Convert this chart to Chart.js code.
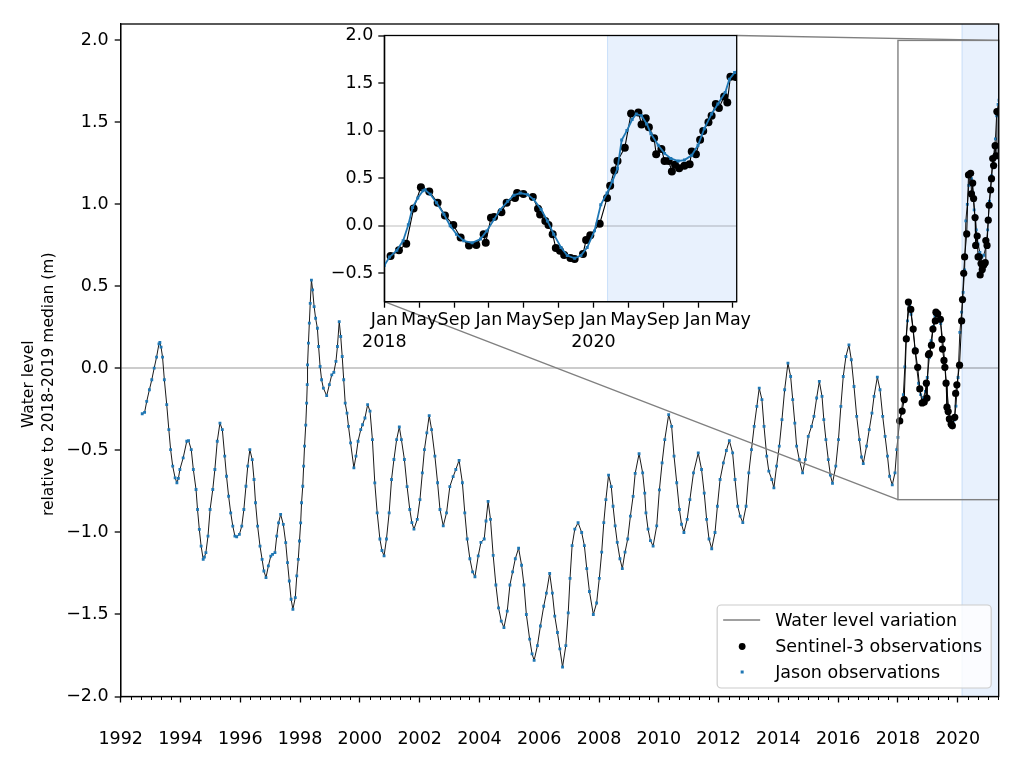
<!DOCTYPE html>
<html>
<head>
<meta charset="utf-8">
<title>Water level</title>
<script src="https://cdn.jsdelivr.net/npm/chart.js@4.4.1/dist/chart.umd.min.js"></script>
<style>
  html, body { margin: 0; padding: 0; background: #fff; }
  #wrap { position: relative; width: 1024px; height: 768px; }
  #main { position: absolute; left: 0; top: 0; }
  #inset { position: absolute; left: 320px; top: 20px; }
</style>
</head>
<body>
<div id="wrap">
  <canvas id="main" width="1024" height="768"></canvas>
  <canvas id="inset" width="440" height="340"></canvas>
</div>
<script>
"use strict";

// Jason altimetry series (decimal year, metres)
const jasonYears = [
  1992.72, 1992.80, 1992.87, 1992.96, 1993.04, 1993.12, 1993.20, 1993.28, 1993.31, 1993.35,
  1993.40, 1993.46, 1993.54, 1993.61, 1993.67, 1993.74, 1993.82, 1993.88, 1993.93, 1993.98,
  1994.09, 1994.21, 1994.27, 1994.36, 1994.43, 1994.52, 1994.57, 1994.63, 1994.69, 1994.76,
  1994.80, 1994.85, 1994.92, 1994.99, 1995.08, 1995.15, 1995.23, 1995.32, 1995.40, 1995.48,
  1995.54, 1995.61, 1995.68, 1995.75, 1995.82, 1995.88, 1995.97, 1996.05, 1996.12, 1996.19,
  1996.25, 1996.32, 1996.40, 1996.46, 1996.51, 1996.58, 1996.66, 1996.73, 1996.79, 1996.86,
  1996.94, 1997.02, 1997.08, 1997.16, 1997.22, 1997.28, 1997.35, 1997.44, 1997.52, 1997.58,
  1997.64, 1997.70, 1997.76, 1997.84, 1997.89, 1997.94, 1997.98, 1998.02, 1998.05, 1998.09,
  1998.12, 1998.15, 1998.19, 1998.22, 1998.24, 1998.25, 1998.28, 1998.31, 1998.34, 1998.38,
  1998.42, 1998.47, 1998.52, 1998.58, 1998.62, 1998.67, 1998.72, 1998.78, 1998.89, 1998.98,
  1999.06, 1999.13, 1999.20, 1999.25, 1999.31, 1999.36, 1999.41, 1999.46, 1999.51, 1999.57,
  1999.62, 1999.69, 1999.80, 1999.87, 1999.94, 2000.03, 2000.09, 2000.17, 2000.26, 2000.34,
  2000.42, 2000.50, 2000.58, 2000.67, 2000.74, 2000.81, 2000.89, 2000.98, 2001.06, 2001.14,
  2001.23, 2001.32, 2001.39, 2001.49, 2001.58, 2001.67, 2001.74, 2001.81, 2001.92, 2002.01,
  2002.09, 2002.16, 2002.24, 2002.32, 2002.40, 2002.51, 2002.60, 2002.68, 2002.79, 2002.90,
  2003.01, 2003.12, 2003.21, 2003.32, 2003.43, 2003.51, 2003.59, 2003.68, 2003.77, 2003.85,
  2003.96, 2004.05, 2004.16, 2004.22, 2004.29, 2004.37, 2004.46, 2004.55, 2004.64, 2004.73,
  2004.82, 2004.93, 2005.02, 2005.11, 2005.20, 2005.31, 2005.41, 2005.49, 2005.57, 2005.68,
  2005.76, 2005.83, 2005.94, 2006.04, 2006.15, 2006.24, 2006.35, 2006.44, 2006.52, 2006.61,
  2006.69, 2006.78, 2006.89, 2006.97, 2007.03, 2007.10, 2007.19, 2007.30, 2007.42, 2007.51,
  2007.59, 2007.68, 2007.81, 2007.92, 2008.01, 2008.09, 2008.16, 2008.23, 2008.32, 2008.41,
  2008.47, 2008.54, 2008.61, 2008.70, 2008.78, 2008.87, 2008.96, 2009.05, 2009.14, 2009.21,
  2009.34, 2009.46, 2009.53, 2009.57, 2009.64, 2009.72, 2009.81, 2009.93, 2010.02, 2010.11,
  2010.20, 2010.33, 2010.43, 2010.51, 2010.60, 2010.69, 2010.76, 2010.84, 2010.95, 2011.04,
  2011.16, 2011.32, 2011.43, 2011.52, 2011.60, 2011.68, 2011.77, 2011.88, 2011.96, 2012.05,
  2012.16, 2012.26, 2012.36, 2012.47, 2012.55, 2012.64, 2012.72, 2012.81, 2012.92, 2013.01,
  2013.10, 2013.19, 2013.28, 2013.36, 2013.45, 2013.52, 2013.61, 2013.68, 2013.78, 2013.85,
  2013.94, 2014.03, 2014.12, 2014.21, 2014.32, 2014.41, 2014.48, 2014.55, 2014.61, 2014.70,
  2014.81, 2014.90, 2015.00, 2015.11, 2015.19, 2015.28, 2015.37, 2015.46, 2015.52, 2015.59,
  2015.67, 2015.74, 2015.81, 2015.92, 2016.01, 2016.09, 2016.17, 2016.26, 2016.36, 2016.44,
  2016.53, 2016.62, 2016.71, 2016.78, 2016.84, 2016.95, 2017.04, 2017.13, 2017.20, 2017.31,
  2017.40, 2017.49, 2017.57, 2017.65, 2017.72, 2017.81, 2017.90, 2017.96, 2018.00, 2018.05,
  2018.12, 2018.18, 2018.23, 2018.27, 2018.32, 2018.37, 2018.39, 2018.44, 2018.50, 2018.57,
  2018.63, 2018.69, 2018.76, 2018.84, 2018.92, 2018.98, 2019.05, 2019.11, 2019.18, 2019.24,
  2019.30, 2019.37, 2019.43, 2019.50, 2019.56, 2019.62, 2019.69, 2019.75, 2019.82, 2019.88,
  2019.94, 2020.01, 2020.07, 2020.13, 2020.18, 2020.23, 2020.27, 2020.32, 2020.37, 2020.41,
  2020.46, 2020.51, 2020.55, 2020.62, 2020.68, 2020.74, 2020.81, 2020.87, 2020.94, 2021.00,
  2021.06, 2021.13, 2021.19, 2021.26, 2021.30, 2021.35, 2021.38
];
const jasonLevels = [
  -0.276, -0.268, -0.201, -0.130, -0.069, 0.002, 0.069, 0.150, 0.158, 0.130,
  0.069, -0.069, -0.221, -0.373, -0.495, -0.596, -0.667, -0.697, -0.670, -0.616,
  -0.545, -0.444, -0.440, -0.495, -0.616, -0.738, -0.860, -0.981, -1.083, -1.164,
  -1.150, -1.123, -1.022, -0.860, -0.738, -0.616, -0.444, -0.333, -0.373, -0.535,
  -0.657, -0.779, -0.880, -0.961, -1.022, -1.026, -1.012, -0.961, -0.860, -0.718,
  -0.596, -0.495, -0.556, -0.677, -0.819, -0.961, -1.083, -1.164, -1.235, -1.275,
  -1.204, -1.144, -1.133, -1.123, -1.022, -0.941, -0.890, -0.951, -1.062, -1.184,
  -1.296, -1.407, -1.468, -1.397, -1.265, -1.164, -1.052, -0.941, -0.819, -0.718,
  -0.596, -0.474, -0.345, -0.211, -0.099, 0.022, 0.154, 0.276, 0.397, 0.539,
  0.479, 0.377, 0.306, 0.245, 0.134, 0.012, -0.069, -0.120, -0.166, -0.099,
  -0.039, -0.024, 0.043, 0.134, 0.286, 0.195, 0.073, -0.069, -0.211, -0.272,
  -0.353, -0.454, -0.606, -0.535, -0.444, -0.373, -0.343, -0.302, -0.221, -0.260,
  -0.434, -0.698, -0.880, -1.040, -1.110, -1.143, -1.040, -0.880, -0.677, -0.555,
  -0.434, -0.357, -0.434, -0.555, -0.720, -0.860, -0.940, -0.980, -0.920, -0.800,
  -0.637, -0.495, -0.393, -0.288, -0.373, -0.535, -0.697, -0.860, -0.960, -0.880,
  -0.720, -0.660, -0.616, -0.560, -0.697, -0.880, -1.040, -1.160, -1.240, -1.270,
  -1.143, -1.060, -1.040, -0.930, -0.810, -0.920, -1.140, -1.320, -1.460, -1.540,
  -1.580, -1.480, -1.320, -1.240, -1.160, -1.096, -1.200, -1.320, -1.500, -1.650,
  -1.740, -1.780, -1.690, -1.570, -1.450, -1.370, -1.250, -1.370, -1.510, -1.610,
  -1.710, -1.820, -1.690, -1.490, -1.280, -1.080, -0.980, -0.940, -1.000, -1.080,
  -1.220, -1.360, -1.500, -1.430, -1.280, -1.120, -0.940, -0.800, -0.650, -0.720,
  -0.840, -0.960, -1.060, -1.160, -1.220, -1.120, -1.040, -0.900, -0.780, -0.640,
  -0.520, -0.637, -0.760, -0.880, -0.980, -1.050, -1.083, -0.960, -0.740, -0.576,
  -0.434, -0.282, -0.353, -0.535, -0.697, -0.860, -0.950, -1.000, -0.920, -0.800,
  -0.637, -0.515, -0.616, -0.760, -0.920, -1.040, -1.099, -1.000, -0.840, -0.677,
  -0.576, -0.500, -0.440, -0.515, -0.677, -0.840, -0.900, -0.940, -0.840, -0.637,
  -0.495, -0.353, -0.231, -0.120, -0.190, -0.353, -0.535, -0.626, -0.677, -0.728,
  -0.596, -0.474, -0.312, -0.130, 0.032, -0.049, -0.190, -0.333, -0.474, -0.556,
  -0.637, -0.556, -0.414, -0.353, -0.292, -0.180, -0.079, -0.170, -0.312, -0.434,
  -0.556, -0.650, -0.700, -0.596, -0.434, -0.231, -0.049, 0.073, 0.144, 0.053,
  -0.110, -0.292, -0.434, -0.540, -0.580, -0.474, -0.373, -0.272, -0.170, -0.053,
  -0.130, -0.292, -0.414, -0.535, -0.657, -0.710, -0.637, -0.495, -0.420, -0.330,
  -0.260, -0.160, 0.010, 0.190, 0.290, 0.367, 0.378, 0.330, 0.240, 0.120,
  0.000, -0.090, -0.160, -0.180, -0.140, -0.055, 0.066, 0.170, 0.256, 0.320,
  0.343, 0.326, 0.274, 0.170, 0.049, -0.090, -0.230, -0.315, -0.343, -0.315,
  -0.230, -0.055, 0.220, 0.343, 0.464, 0.600, 0.900, 1.000, 1.116, 1.175,
  1.157, 1.070, 0.967, 0.845, 0.760, 0.707, 0.680, 0.690, 0.740, 0.845,
  1.020, 1.175, 1.280, 1.400, 1.540, 1.610, 1.635
];

// Sentinel-3 series (decimal year, metres)
const sentinelYears = [
  2018.06, 2018.14, 2018.21, 2018.28, 2018.35, 2018.43, 2018.51, 2018.58, 2018.66, 2018.73,
  2018.81, 2018.88, 2018.95, 2018.97, 2019.02, 2019.05, 2019.12, 2019.17, 2019.25, 2019.27,
  2019.33, 2019.42, 2019.47, 2019.49, 2019.54, 2019.57, 2019.61, 2019.64, 2019.68, 2019.72,
  2019.78, 2019.82, 2019.90, 2019.93, 2019.97, 2020.06, 2020.13, 2020.16, 2020.20, 2020.23,
  2020.30, 2020.36, 2020.43, 2020.46, 2020.50, 2020.53, 2020.58, 2020.60, 2020.65, 2020.68,
  2020.72, 2020.75, 2020.78, 2020.82, 2020.87, 2020.92, 2020.94, 2020.98, 2021.02, 2021.05,
  2021.10, 2021.13, 2021.17, 2021.20, 2021.25, 2021.28, 2021.31, 2021.36
];
const sentinelLevels = [
  -0.320, -0.260, -0.190, 0.180, 0.405, 0.360, 0.240, 0.107, 0.007, -0.125,
  -0.210, -0.204, -0.090, -0.180, 0.083, 0.090, 0.142, 0.240, 0.290, 0.343,
  0.333, 0.300, 0.177, 0.118, 0.049, 0.007, -0.090, -0.236, -0.263, -0.308,
  -0.340, -0.350, -0.298, -0.152, -0.100, 0.020, 0.290, 0.420, 0.580, 0.680,
  0.820, 1.180, 1.190, 1.064, 1.130, 1.036, 0.920, 0.750, 0.807, 0.680,
  0.680, 0.570, 0.640, 0.603, 0.630, 0.645, 0.780, 0.750, 0.904, 0.995,
  1.088, 1.157, 1.280, 1.237, 1.358, 1.296, 1.566, 1.563
];

const mainYTicks = [-2.0, -1.5, -1.0, -0.5, 0.0, 0.5, 1.0, 1.5, 2.0];
const mainXTickYears = [1992, 1994, 1996, 1998, 2000, 2002, 2004, 2006, 2008, 2010, 2012, 2014, 2016, 2018, 2020];
const insetYTicks = [-0.5, 0.0, 0.5, 1.0, 1.5, 2.0];
const insetXTicks = [2018, 2018 + 4 / 12, 2018 + 8 / 12, 2019, 2019 + 4 / 12, 2019 + 8 / 12,
                     2020, 2020 + 4 / 12, 2020 + 8 / 12, 2021, 2021 + 4 / 12];
const insetXLabels = [['Jan', '2018'], 'May', 'Sep', 'Jan', 'May', 'Sep', ['Jan', '2020'], 'May', 'Sep', 'Jan', 'May'];
const legendLabels = ['Water level variation', 'Sentinel-3 observations', 'Jason observations'];
const yTitleLines = ['Water level', 'relative to 2018-2019 median (m)'];

const X_MIN = 1992, X_MAX = 2021.37;
const Y_MIN = -2.0, Y_MAX = 2.1;
const INSET_X_MIN = 2018, INSET_Y_MIN = -0.8, INSET_Y_MAX = 2.0;
const SHADE_START = 2020.13;

const BLUE = '#1f77b4';
const SHADE = 'rgb(232, 241, 253)';
const FONT = 'DejaVu Sans';

Chart.defaults.font.family = FONT;
Chart.defaults.font.size = 17.5;
Chart.defaults.color = '#000';
Chart.defaults.animation = false;
Chart.defaults.plugins.legend.display = false;
Chart.defaults.plugins.tooltip.enabled = false;

const jasonPts = jasonYears.map((x, i) => ({x: x, y: jasonLevels[i]}));
const sentinelPts = sentinelYears.map((x, i) => ({x: x, y: sentinelLevels[i]}));

// one tick every four months, labelled ones at the listed years
const minorTicks = [];
for (let k = 0; X_MIN + k / 3 <= X_MAX; k++) minorTicks.push(X_MIN + k / 3);
const isMajor = v => mainXTickYears.some(y => Math.abs(y - v) < 1e-6);

const fmt = v => (v < 0 ? '\u2212' : '') + Math.abs(v).toFixed(1);

// white axes patch, blue shaded period (zero line comes from the grid)
const backdrop = (white) => ({
  id: 'backdrop',
  beforeDraw(chart) {
    const {ctx, chartArea: a, scales} = chart;
    ctx.save();
    if (white) {
      ctx.fillStyle = '#fff';
      ctx.fillRect(a.left, a.top, a.right - a.left, a.bottom - a.top);
    }
    const x0 = scales.x.getPixelForValue(SHADE_START);
    ctx.fillStyle = SHADE;
    ctx.fillRect(x0, a.top, a.right - x0, a.bottom - a.top);
    ctx.strokeStyle = 'rgba(200, 222, 248, 0.9)';
    ctx.lineWidth = 1;
    ctx.beginPath();
    ctx.moveTo(x0 + 0.5, a.top);
    ctx.lineTo(x0 + 0.5, a.bottom);
    ctx.stroke();
    ctx.restore();
  }
});

const frame = {
  id: 'frame',
  afterDraw(chart) {
    const {ctx, chartArea: a} = chart;
    ctx.save();
    ctx.strokeStyle = '#000';
    ctx.lineWidth = 1.3;
    ctx.strokeRect(a.left, a.top, a.right - a.left, a.bottom - a.top);
    ctx.restore();
  }
};

// ---------- inset ----------
const insetCanvas = document.getElementById('inset');
const insetChart = new Chart(insetCanvas, {
  type: 'scatter',
  data: {
    datasets: [
      {
        label: legendLabels[2],
        data: jasonPts,
        showLine: true,
        borderColor: BLUE,
        borderWidth: 1.8,
        pointStyle: 'rect',
        pointRadius: 2.1,
        pointBackgroundColor: BLUE,
        pointBorderWidth: 0,
        order: 1
      },
      {
        label: legendLabels[1],
        data: sentinelPts,
        showLine: true,
        borderColor: '#000',
        borderWidth: 1.1,
        pointRadius: 4,
        pointBackgroundColor: '#000',
        pointBorderWidth: 0,
        order: 2
      }
    ]
  },
  options: {
    responsive: false,
    devicePixelRatio: 1,
    layout: {padding: {top: 12.3, right: 23.3, left: 0, bottom: 0}},
    scales: {
      x: {
        type: 'linear',
        min: INSET_X_MIN,
        max: X_MAX,
        afterBuildTicks: s => { s.ticks = insetXTicks.map(v => ({value: v})); },
        afterFit: s => { s.height = 58.3; },
        ticks: {
          autoSkip: false,
          maxRotation: 0,
          padding: 2,
          font: {lineHeight: 1.25},
          callback: (v, i) => insetXLabels[i]
        },
        grid: {drawOnChartArea: false, tickLength: 6, tickColor: '#000', tickWidth: 1.3},
        border: {color: '#000', width: 1.3}
      },
      y: {
        min: INSET_Y_MIN,
        max: INSET_Y_MAX,
        afterBuildTicks: s => { s.ticks = insetYTicks.map(v => ({value: v})); },
        afterFit: s => { s.width = 64.3; },
        ticks: {padding: 5, callback: fmt},
        grid: {
          color: ctx => (ctx.tick && ctx.tick.value === 0) ? 'rgba(0,0,0,0.13)' : 'transparent',
          lineWidth: 2,
          tickLength: 6,
          tickColor: '#000',
          tickWidth: 1.3
        },
        border: {color: '#000', width: 1.3}
      }
    }
  },
  plugins: [backdrop(true), frame]
});

// ---------- main ----------
const minorTickMarks = {
  id: 'minorTickMarks',
  afterDraw(chart) {
    const {ctx, chartArea: a, scales} = chart;
    ctx.save();
    ctx.strokeStyle = '#000';
    ctx.lineWidth = 1;
    ctx.beginPath();
    scales.x.ticks.forEach(t => {
      if (isMajor(t.value)) return;
      const px = Math.round(scales.x.getPixelForValue(t.value)) + 0.5;
      ctx.moveTo(px, a.bottom);
      ctx.lineTo(px, a.bottom + 3.5);
    });
    ctx.stroke();
    ctx.restore();
  }
};

// zoom box on the main axes and the two connector lines to the inset
const insetMarker = {
  id: 'insetMarker',
  afterDatasetsDraw(chart) {
    const {ctx, scales} = chart;
    const x0 = scales.x.getPixelForValue(INSET_X_MIN);
    const x1 = scales.x.getPixelForValue(X_MAX);
    const y0 = scales.y.getPixelForValue(INSET_Y_MAX);
    const y1 = scales.y.getPixelForValue(INSET_Y_MIN);
    const ia = insetChart.chartArea;
    const ox = insetCanvas.offsetLeft, oy = insetCanvas.offsetTop;
    ctx.save();
    ctx.strokeStyle = '#808080';
    ctx.lineWidth = 1.4;
    ctx.strokeRect(x0, y0, x1 - x0, y1 - y0);
    ctx.beginPath();
    ctx.moveTo(ox + ia.right, oy + ia.top);
    ctx.lineTo(x1, y0);
    ctx.moveTo(ox + ia.left, oy + ia.bottom);
    ctx.lineTo(x0, y1);
    ctx.stroke();
    ctx.restore();
  }
};

const yTitle = {
  id: 'yTitle',
  afterDraw(chart) {
    const {ctx, chartArea: a} = chart;
    const yc = (a.top + a.bottom) / 2 + 24;
    ctx.save();
    ctx.fillStyle = '#000';
    ctx.font = '15.5px "' + FONT + '"';
    ctx.textAlign = 'center';
    ctx.textBaseline = 'middle';
    yTitleLines.forEach((line, i) => {
      ctx.save();
      ctx.translate(29 + i * 19.5, yc);
      ctx.rotate(-Math.PI / 2);
      ctx.fillText(line, 0, 0);
      ctx.restore();
    });
    ctx.restore();
  }
};

const boxLegend = {
  id: 'boxLegend',
  afterDraw(chart) {
    const {ctx, chartArea: a} = chart;
    ctx.save();
    ctx.font = '17.5px "' + FONT + '"';
    const tw = Math.max(...legendLabels.map(s => ctx.measureText(s).width));
    const w = tw + 67, h = 83;
    const right = a.right - 7.5, bottom = a.bottom - 8.5;
    const left = right - w, top = bottom - h;
    ctx.fillStyle = 'rgba(255,255,255,0.8)';
    ctx.strokeStyle = '#cccccc';
    ctx.lineWidth = 1.2;
    ctx.beginPath();
    ctx.roundRect(left, top, w, h, 4);
    ctx.fill();
    ctx.stroke();
    const rows = [top + 15, top + 41.5, top + 67];
    const mx = left + 25;
    // entry 0: line sample
    ctx.strokeStyle = '#808080';
    ctx.lineWidth = 1.4;
    ctx.beginPath();
    ctx.moveTo(left + 6, rows[0]);
    ctx.lineTo(left + 43, rows[0]);
    ctx.stroke();
    // entry 1: black dot
    ctx.fillStyle = '#000';
    ctx.beginPath();
    ctx.arc(mx, rows[1], 3.4, 0, Math.PI * 2);
    ctx.fill();
    // entry 2: blue square
    ctx.fillStyle = BLUE;
    ctx.fillRect(mx - 1.5, rows[2] - 1.5, 3, 3);
    ctx.fillStyle = '#000';
    ctx.textAlign = 'left';
    ctx.textBaseline = 'middle';
    legendLabels.forEach((s, i) => ctx.fillText(s, left + 58, rows[i] + 1));
    ctx.restore();
  }
};

new Chart(document.getElementById('main'), {
  type: 'scatter',
  data: {
    datasets: [
      {
        label: legendLabels[0],
        data: jasonPts,
        showLine: true,
        borderColor: '#1a1a1a',
        borderWidth: 1,
        pointRadius: 0,
        order: 3
      },
      {
        label: legendLabels[1],
        data: sentinelPts,
        showLine: true,
        borderColor: '#000',
        borderWidth: 1,
        pointRadius: 3.6,
        pointBackgroundColor: '#000',
        pointBorderWidth: 0,
        order: 1
      },
      {
        label: legendLabels[2],
        data: jasonPts,
        showLine: false,
        pointStyle: 'rect',
        pointRadius: 2,
        pointBackgroundColor: BLUE,
        pointBorderWidth: 0,
        order: 2
      }
    ]
  },
  options: {
    responsive: false,
    devicePixelRatio: 1,
    layout: {padding: {top: 24, right: 25.3, left: 0, bottom: 0}},
    scales: {
      x: {
        type: 'linear',
        min: X_MIN,
        max: X_MAX,
        afterBuildTicks: s => { s.ticks = minorTicks.map(v => ({value: v})); },
        afterFit: s => { s.height = 71.5; },
        ticks: {
          autoSkip: false,
          maxRotation: 0,
          padding: 26,
          callback: v => isMajor(v) ? String(Math.round(v)) : ''
        },
        grid: {
          drawOnChartArea: false,
          tickLength: 6,
          tickColor: ctx => isMajor(ctx.tick.value) ? '#000' : 'transparent',
          tickWidth: 1.3
        },
        border: {color: '#000', width: 1.3}
      },
      y: {
        min: Y_MIN,
        max: Y_MAX,
        afterBuildTicks: s => { s.ticks = mainYTicks.map(v => ({value: v})); },
        afterFit: s => { s.width = 120.7; },
        ticks: {padding: 6, callback: fmt},
        grid: {
          color: ctx => (ctx.tick && ctx.tick.value === 0) ? 'rgba(0,0,0,0.2)' : 'transparent',
          lineWidth: 2,
          tickLength: 6,
          tickColor: '#000',
          tickWidth: 1.3
        },
        border: {color: '#000', width: 1.3}
      }
    }
  },
  plugins: [backdrop(false), insetMarker, frame, minorTickMarks, yTitle, boxLegend]
});
</script>
</body>
</html>
